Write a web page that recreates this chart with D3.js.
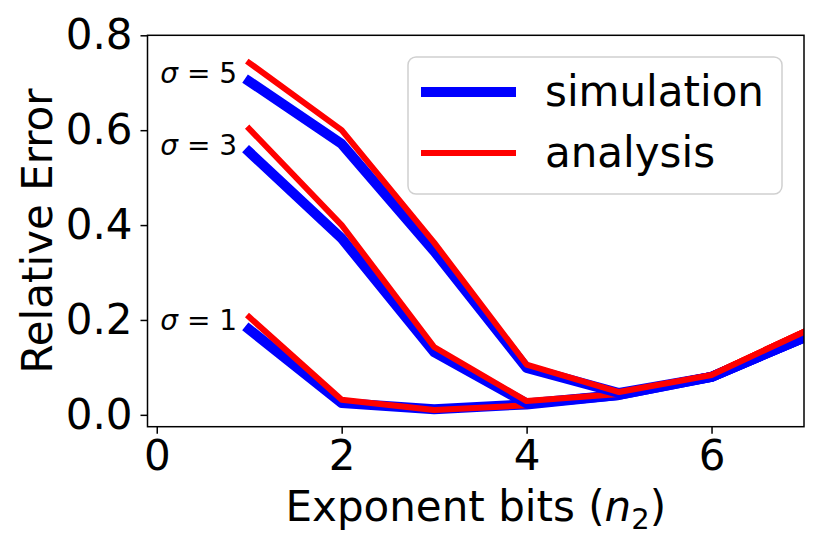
<!DOCTYPE html>
<html lang="en">
<head>
<meta charset="utf-8">
<title>Relative Error vs Exponent bits</title>
<script src="https://d3js.org/d3.v7.min.js"></script>
<style>
  body { margin: 0; background: #fff; }
  text { font-family: "DejaVu Sans", sans-serif; fill: #000; }
</style>
</head>
<body>
<div id="chart"></div>
<script>
// data
var bits = [1, 2, 3, 4, 5, 6, 7];
var sigmas = [1, 3, 5];
var sim1 = [0.180, 0.025, 0.012, 0.022, 0.042, 0.080, 0.163];
var ana1 = [0.206, 0.032, 0.010, 0.020, 0.044, 0.084, 0.175];
var sim3 = [0.554, 0.372, 0.132, 0.024, 0.042, 0.080, 0.163];
var ana3 = [0.603, 0.400, 0.143, 0.029, 0.044, 0.084, 0.175];
var sim5 = [0.703, 0.571, 0.345, 0.099, 0.046, 0.080, 0.163];
var ana5 = [0.742, 0.600, 0.363, 0.106, 0.048, 0.084, 0.175];
var xTicks = [0, 2, 4, 6];
var yTicks = [0.0, 0.2, 0.4, 0.6, 0.8];
var labelX = 0.87;
var labelY = [0.179, 0.547, 0.699];

var w = 830, h = 554;
var margin = {left: 147.5, right: 26, top: 35.3, bottom: 127.3};
var fs = 42;

var svg = d3.select('#chart').append('svg').attr('width', w).attr('height', h);

var x = d3.scaleLinear().domain([-0.1, 7]).range([margin.left, w - margin.right]);
var y = d3.scaleLinear().domain([-0.025, 0.8]).range([h - margin.bottom, margin.top]);

// clip to axes area
svg.append('clipPath').attr('id', 'clip').append('rect')
  .attr('x', x.range()[0]).attr('y', y.range()[1])
  .attr('width', x.range()[1] - x.range()[0]).attr('height', y.range()[0] - y.range()[1]);

var line = d3.line().x(function(d, i) { return x(bits[i]); }).y(function(d) { return y(d); });

var series = [
  {vals: sim1, color: '#0000ff', width: 10},
  {vals: ana1, color: '#ff0000', width: 6},
  {vals: sim3, color: '#0000ff', width: 10},
  {vals: ana3, color: '#ff0000', width: 6},
  {vals: sim5, color: '#0000ff', width: 10},
  {vals: ana5, color: '#ff0000', width: 6}
];

svg.append('g').attr('clip-path', 'url(#clip)')
  .selectAll('path').data(series).enter().append('path')
  .attr('d', function(d) { return line(d.vals); })
  .attr('fill', 'none')
  .attr('stroke', function(d) { return d.color; })
  .attr('stroke-width', function(d) { return d.width; })
  .attr('stroke-linejoin', 'round')
  .attr('stroke-linecap', 'square');

// axes
var xAxis = d3.axisBottom(x).tickValues(xTicks).tickFormat(d3.format('d')).tickSizeOuter(0).tickSize(7).tickPadding(6);
var yAxis = d3.axisLeft(y).tickValues(yTicks).tickFormat(d3.format('.1f')).tickSizeOuter(0).tickSize(7).tickPadding(8);

var gx = svg.append('g').attr('transform', 'translate(0,' + y.range()[0] + ')').call(xAxis);
var gy = svg.append('g').attr('transform', 'translate(' + x.range()[0] + ',0)').call(yAxis);
[gx, gy].forEach(function(g) {
  g.select('.domain').remove();
  g.selectAll('line').attr('stroke', '#000').attr('stroke-width', 1.5);
  g.selectAll('text').attr('font-size', fs).attr('font-family', '"DejaVu Sans", sans-serif').attr('fill', '#000');
});

// frame
svg.append('rect')
  .attr('x', x.range()[0]).attr('y', y.range()[1])
  .attr('width', x.range()[1] - x.range()[0]).attr('height', y.range()[0] - y.range()[1])
  .attr('fill', 'none').attr('stroke', '#000').attr('stroke-width', 1.5);

// sigma labels
var lab = svg.selectAll('.sig').data(sigmas).enter().append('text').attr('class', 'sig')
  .attr('x', x(labelX)).attr('y', function(d, i) { return y(labelY[i]); })
  .attr('text-anchor', 'end').attr('font-size', 28);
lab.append('tspan').attr('font-style', 'italic').text('σ');
lab.append('tspan').text(function(d) { return ' = ' + d; });

// axis labels
var xl = svg.append('text').attr('x', (x.range()[0] + x.range()[1]) / 2).attr('y', 521)
  .attr('text-anchor', 'middle').attr('font-size', fs);
xl.append('tspan').text('Exponent bits (');
xl.append('tspan').attr('font-style', 'italic').text('n');
xl.append('tspan').attr('font-size', 29).attr('dy', 8).text('2');
xl.append('tspan').attr('dy', -8).text(')');

svg.append('text').attr('transform', 'translate(52,' + ((y.range()[0] + y.range()[1]) / 2) + ') rotate(-90)')
  .attr('text-anchor', 'middle').attr('font-size', fs).text('Relative Error');

// legend
var lg = svg.append('g');
lg.append('rect').attr('x', 408).attr('y', 57).attr('width', 374).attr('height', 137)
  .attr('rx', 8).attr('fill', '#fff').attr('fill-opacity', 0.8)
  .attr('stroke', '#d0d0d0').attr('stroke-width', 1.5);
var legendItems = [
  {name: 'simulation', color: '#0000ff', width: 10},
  {name: 'analysis', color: '#ff0000', width: 6}
];
legendItems.forEach(function(d, i) {
  var yy = 92 + i * 61;
  lg.append('line').attr('x1', 421).attr('x2', 516).attr('y1', yy).attr('y2', yy)
    .attr('stroke', d.color).attr('stroke-width', d.width);
  lg.append('text').attr('x', 545).attr('y', yy + 14).attr('font-size', fs).text(d.name);
});
</script>
</body>
</html>
